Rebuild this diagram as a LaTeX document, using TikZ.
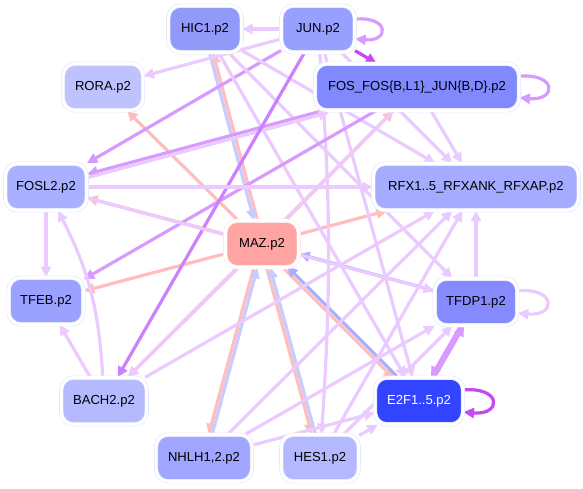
\documentclass[tikz,border=0pt]{standalone}
\usepackage{fontspec}
\setmainfont{Liberation Sans}
\usetikzlibrary{arrows.meta,positioning}

\pgfdeclarelayer{bg}
\pgfsetlayers{bg,main}

\definecolor{bord}{HTML}{E4E6FF}
\definecolor{cHIC}{HTML}{9199F9}
\definecolor{cJUN}{HTML}{98A0FF}
\definecolor{cFOS}{HTML}{8189FF}
\definecolor{cRORA}{HTML}{BEC2FF}
\definecolor{cFOSL}{HTML}{A9B0FF}
\definecolor{cRFX}{HTML}{A5ACFF}
\definecolor{cMAZ}{HTML}{FFA3A3}
\definecolor{cTFEB}{HTML}{9AA1FF}
\definecolor{cTFDP}{HTML}{858BFF}
\definecolor{cEF}{HTML}{3344FF}
\definecolor{cBACH}{HTML}{B5BAFF}
\definecolor{cNHLH}{HTML}{A0A6FF}
\definecolor{cHES}{HTML}{B4B9FF}
\definecolor{vlt}{HTML}{EBCBFF}
\definecolor{vmd}{HTML}{D79BFF}
\definecolor{vsm}{HTML}{CC80FF}
\definecolor{vst}{HTML}{C548F5}
\definecolor{pnk}{HTML}{FFBDBD}
\definecolor{blu}{HTML}{C6CCFF}
\definecolor{blm}{HTML}{A9AFFF}

\begin{document}
\begin{tikzpicture}[x=0.75pt, y=-0.75pt,
  gn/.style={rectangle, rounded corners=9pt, fill=#1, draw=bord, double=white,
    double distance=2.2pt, line width=0.5pt, minimum height=35pt, inner xsep=4pt,
    font=\fontsize{9.8}{12}\selectfont},
  ed/.style={draw=#1, line width=2.4pt, -{Triangle[length=8pt, width=7.5pt]}},
  lp/.style={ed=#1, looseness=4.5}
]
  \useasboundingbox (0,0) rectangle (583,489);

  % nodes
  \node[gn=cHIC,  minimum width=55pt]  (HIC1)  at (205,29)  {HIC1.p2};
  \node[gn=cJUN,  minimum width=55pt]  (JUN)   at (318,29)  {JUN.p2};
  \node[gn=cFOS,  minimum width=153pt] (FOS)   at (417,87)  {FOS\_FOS\{B,L1\}\_JUN\{B,D\}.p2};
  \node[gn=cRORA, minimum width=60pt]  (RORA)  at (103,87)  {RORA.p2};
  \node[gn=cFOSL, minimum width=61pt]  (FOSL2) at (46,187)  {FOSL2.p2};
  \node[gn=cRFX,  minimum width=154pt] (RFX)   at (476,187) {RFX1..5\_RFXANK\_RFXAP.p2};
  \node[gn=cMAZ,  minimum width=55pt, draw=pnk!40] (MAZ) at (262,244) {MAZ.p2};
  \node[gn=cTFEB, minimum width=56pt]  (TFEB)  at (46,301)  {TFEB.p2};
  \node[gn=cTFDP, minimum width=62pt]  (TFDP1) at (476,302) {TFDP1.p2};
  \node[gn=cBACH, minimum width=64pt]  (BACH2) at (104,401) {BACH2.p2};
  \node[gn=cEF,   minimum width=66pt, text=white] (E2F1) at (419,401) {E2F1..5.p2};
  \node[gn=cNHLH, minimum width=72pt]  (NHLH)  at (204,458) {NHLH1,2.p2};
  \node[gn=cHES,  minimum width=58pt]  (HES1)  at (320,458) {HES1.p2};

  \begin{pgfonlayer}{bg}
  % edges from MAZ
  \draw[ed=pnk] (MAZ) -- (RORA);
  \draw[ed=pnk] (MAZ) -- (FOSL2);
  \draw[ed=pnk] (MAZ) -- (TFEB);
  \draw[ed=pnk] (MAZ) -- (BACH2);
  \draw[ed=pnk] (MAZ) -- (FOS);
  \draw[ed=pnk] (MAZ) -- (RFX);
  \draw[ed=pnk, transform canvas={xshift=1.3pt}] (MAZ) -- (HIC1);
  \draw[ed=blu, transform canvas={xshift=-1.3pt}] (HIC1) -- (MAZ);
  \draw[ed=pnk, transform canvas={xshift=-1.3pt}] (MAZ) -- (NHLH);
  \draw[ed=blu, transform canvas={xshift=1.3pt}] (NHLH) -- (MAZ);
  \draw[ed=pnk, transform canvas={xshift=-1.3pt}] (MAZ) -- (HES1);
  \draw[ed=blu, transform canvas={xshift=1.3pt}] (HES1) -- (MAZ);
  \draw[ed=pnk, transform canvas={shift={(-1pt,-1pt)}}] (MAZ) -- (E2F1);
  \draw[ed=blm, transform canvas={shift={(1pt,1pt)}}] (E2F1) -- (MAZ);
  \draw[ed=blm] (TFDP1) -- (MAZ);

  % edges from the top
  \draw[ed=vlt] (JUN) -- (HIC1);
  \draw[ed=vlt] (JUN) -- (RORA);
  \draw[ed=vmd] (JUN) -- (FOSL2);
  \draw[ed=vlt] (JUN) -- (RFX);
  \draw[ed=vlt] (JUN) -- (E2F1);
  \draw[ed=vlt] (JUN) to[bend left=4] (HES1);
  \draw[ed=vlt] (HIC1) -- (RFX);
  \draw[ed=vlt] (HIC1) -- (TFDP1);
  \draw[ed=vlt] (HIC1) -- (E2F1);
  \draw[ed=vmd, transform canvas={yshift=1.3pt}] (FOS) -- (FOSL2);
  \draw[ed=vlt, transform canvas={yshift=-1.3pt}] (FOSL2) -- (FOS);
  \draw[ed=vmd] (FOS) -- (TFEB);
  \draw[ed=vlt] (FOS) -- (BACH2);
  \draw[ed=vsm] (JUN) -- (BACH2);
  \draw[ed=vlt] (FOS) -- (RFX);
  \draw[ed=vst] (JUN) -- (FOS);

  % edges from the left
  \draw[ed=vlt] (FOSL2) -- (RFX);
  \draw[ed=vlt] (FOSL2) -- (TFDP1);
  \draw[ed=vlt] (FOSL2) -- (TFEB);
  \draw[ed=vlt] (BACH2) to[bend right=12] (FOSL2);
  \draw[ed=vlt] (BACH2) -- (TFEB);
  \draw[ed=vlt] (BACH2) -- (RFX);

  % edges from the bottom
  \draw[ed=vlt] (NHLH) -- (RFX);
  \draw[ed=vlt] (NHLH) -- (TFDP1);
  \draw[ed=vlt] (NHLH) -- (E2F1);
  \draw[ed=vlt] (HES1) -- (RFX);
  \draw[ed=vlt] (HES1) -- (TFDP1);
  \draw[ed=vlt] (HES1) -- (E2F1);
  \draw[ed=vlt] (TFDP1) -- (RFX);
  \draw[ed=vmd, transform canvas={xshift=-1.3pt}] (TFDP1) -- (E2F1);
  \draw[ed=vmd, transform canvas={xshift=1.3pt}] (E2F1) -- (TFDP1);

  % self loops
  \draw[lp=vmd] (JUN.15) to[out=5, in=-5] (JUN.-15);
  \draw[lp=vmd] (FOS.6) to[out=5, in=-5] (FOS.-6);
  \draw[lp=vlt] (TFDP1.15) to[out=5, in=-5] (TFDP1.-15);
  \draw[lp=vst] (E2F1.14) to[out=5, in=-5] (E2F1.-14);
  \end{pgfonlayer}
\end{tikzpicture}
\end{document}
